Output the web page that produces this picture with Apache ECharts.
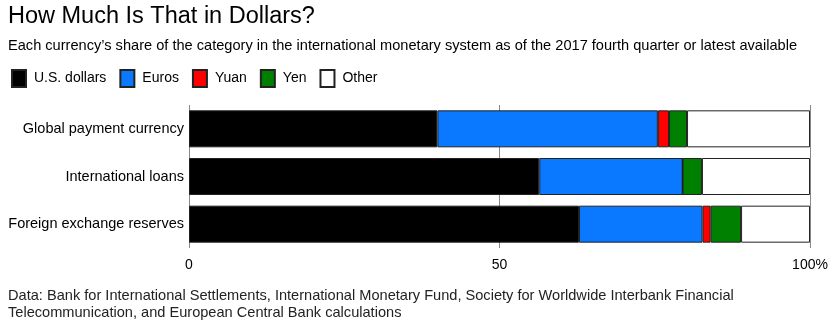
<!DOCTYPE html>
<html>
<head>
<meta charset="utf-8">
<script src="https://cdn.jsdelivr.net/npm/echarts@6/dist/echarts.min.js"></script>
<style>
html,body{margin:0;padding:0;background:#fff;}
#chart{width:833px;height:328px;}
</style>
</head>
<body>
<div id="chart"></div>
<script>
var categories = ['Global payment currency', 'International loans', 'Foreign exchange reserves'];
var usd = [40.0, 56.4, 62.8];
var eur = [35.5, 23.1, 19.9];
var yuan = [1.8, 0, 1.3];
var yen = [2.9, 3.1, 4.9];
var other = [19.8, 17.4, 11.1];
var seriesNames = ['U.S. dollars', 'Euros', 'Yuan', 'Yen', 'Other'];
var seriesColors = ['#000000', '#0a78ff', '#ff0000', '#008000', '#ffffff'];
var xTicks = [0, 50, 100];

var dataSets = [usd, eur, yuan, yen, other];
var font = '"Liberation Sans", Arial, sans-serif';

var chart = echarts.init(document.getElementById('chart'), null, {renderer: 'canvas'});
var series = seriesNames.map(function (n, i) {
  return {
    name: n,
    type: 'bar',
    stack: 'total',
    barWidth: 37,
    data: dataSets[i],
    itemStyle: {color: seriesColors[i], borderColor: '#222', borderWidth: 1},
    emphasis: {disabled: true}
  };
});

chart.setOption({
  animation: false,
  backgroundColor: '#fff',
  title: [{
    text: 'How Much Is That in Dollars?',
    left: 8, top: 5, padding: 0,
    textStyle: {fontFamily: font, fontSize: 23.5, fontWeight: 'normal', color: '#000'}
  }, {
    text: 'Each currency\u2019s share of the category in the international monetary system as of the 2017 fourth quarter or latest available',
    left: 8, top: 38, padding: 0,
    textStyle: {fontFamily: font, fontSize: 14.6, fontWeight: 'normal', color: '#000'}
  }, {
    text: 'Data: Bank for International Settlements, International Monetary Fund, Society for Worldwide Interbank Financial\nTelecommunication, and European Central Bank calculations',
    left: 8, top: 287, padding: 0,
    textStyle: {fontFamily: font, fontSize: 14.6, fontWeight: 'normal', color: '#222', lineHeight: 17}
  }],
  legend: {
    left: 6, top: 64,
    itemWidth: 14, itemHeight: 17, itemGap: 13,
    icon: 'rect',
    textStyle: {fontFamily: font, fontSize: 14, color: '#000', padding: [0, 0, 0, 3]},
    data: seriesNames
  },
  grid: {left: 189, right: 23, top: 105, bottom: 80},
  xAxis: {
    type: 'value', min: 0, max: 100, interval: 50,
    axisLine: {show: false}, axisTick: {show: false},
    splitLine: {show: true, lineStyle: {color: '#888', width: 1}},
    axisLabel: {
      fontFamily: font, fontSize: 14, color: '#000', margin: 10,
      formatter: function (v) { return v === 100 ? '100%' : String(v); }
    }
  },
  yAxis: {
    type: 'category', data: categories, inverse: true,
    axisLine: {show: false}, axisTick: {show: false},
    axisLabel: {fontFamily: font, fontSize: 14.5, color: '#000', margin: 5}
  },
  series: series
});
</script>
</body>
</html>
